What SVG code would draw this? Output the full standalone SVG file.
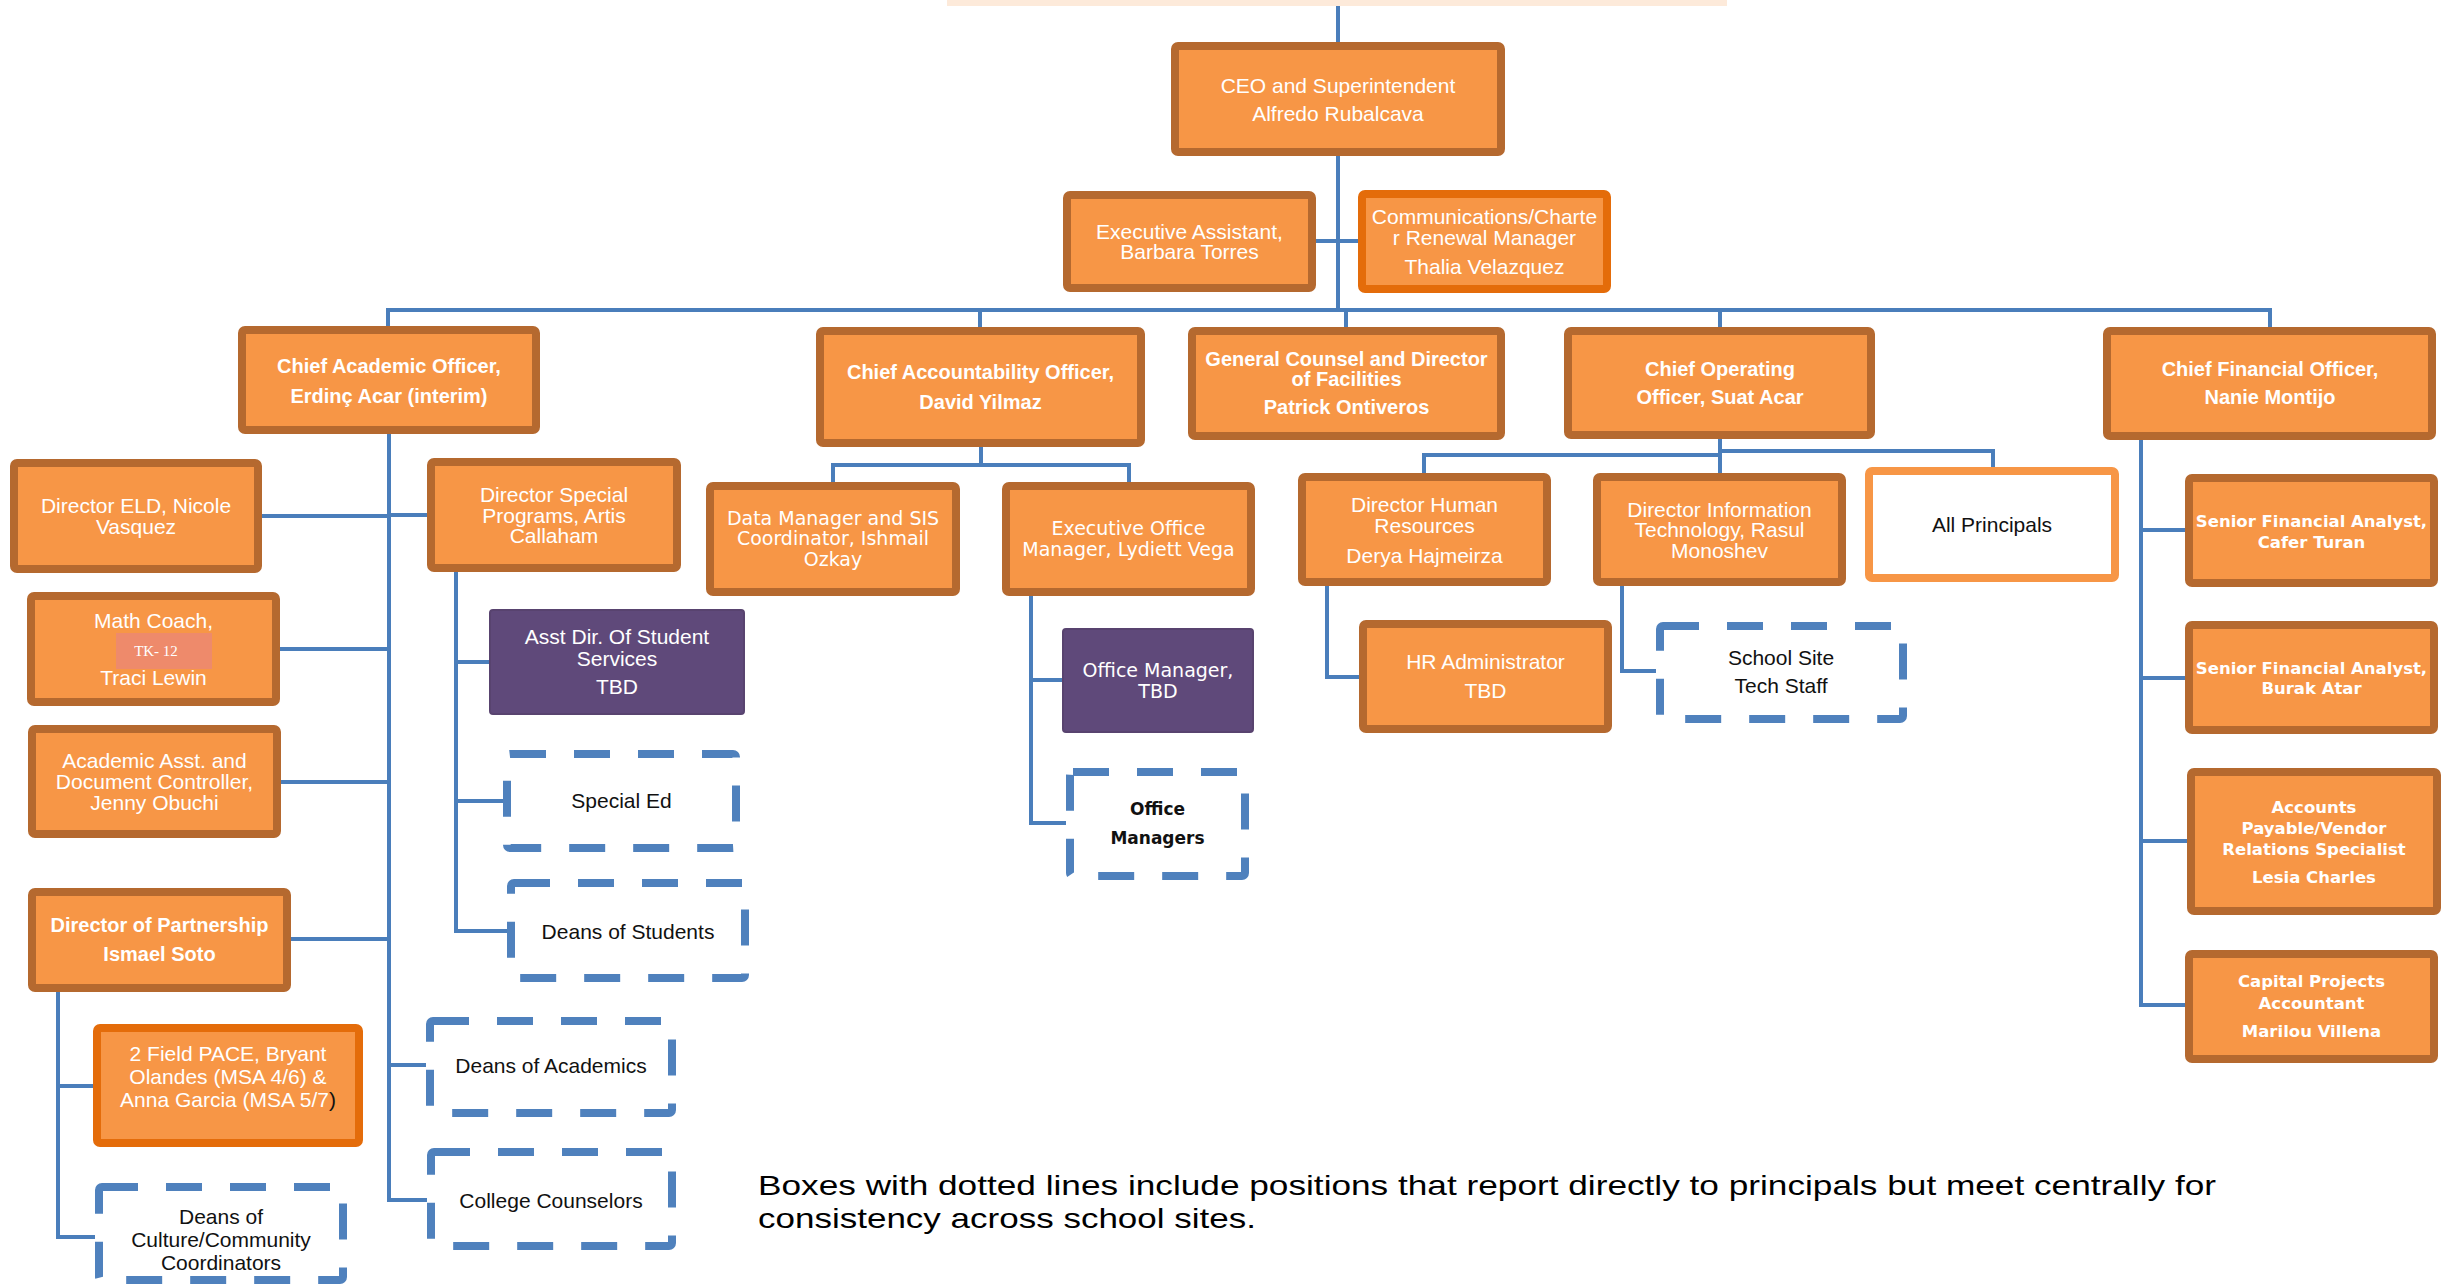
<svg xmlns="http://www.w3.org/2000/svg" width="2455" height="1288" viewBox="0 0 2455 1288">
<style>
.bx{fill:#F79646;stroke:#B5692F;stroke-width:8}
.bx2{fill:#F79646;stroke:#E46C0A;stroke-width:8}
.pu{fill:#5F497A;stroke:#58436F;stroke-width:2}
.ds{fill:#fff;stroke:#4F81BD;stroke-width:8;stroke-dasharray:36 28}
.wp{fill:#fff;stroke:#F79646;stroke-width:8}
.c{fill:none;stroke:#4A7EBB;stroke-width:4}
text{font-family:"Liberation Sans",Arial,sans-serif;font-size:21px;fill:#fff;text-anchor:middle}
.b{font-weight:bold;font-size:20px}
.k{fill:#111}
.v{font-family:"DejaVu Sans",Verdana,sans-serif;font-size:19px}
.vb{font-family:"DejaVu Sans",Verdana,sans-serif;font-weight:bold;font-size:16.5px}
.vk{font-family:"DejaVu Sans",Verdana,sans-serif;font-weight:bold;font-size:17px;fill:#111}
.tk{font-family:"Liberation Serif","Times New Roman",serif;font-size:15px}
.lg{font-size:28px;fill:#000;text-anchor:start}
</style>
<rect x="947" y="0" width="780" height="6" fill="#FDEADA"/>
<g id="connectors">
<path class="c" d="M1338 6V42M1338 156V310M1316 241H1358M388 327V310H2270V327M980 310V327M1346 310V327M1720 310V327"/>
<path class="c" d="M389 434V1200H427M262 516H389M389 515H427M280 649H389M281 782H389M291 939H389M389 1065H426"/>
<path class="c" d="M456 572V931H507M456 662H490M456 801H503M58 992V1237H95M58 1086H93"/>
<path class="c" d="M981 447V465M833 482V465H1129V482M1031 596V823H1066M1031 680H1063"/>
<path class="c" d="M1720 439V473M1424 473V455H1720M1720 451H1993V467M1327 586V677H1359M1622 586V671H1656"/>
<path class="c" d="M2141 440V1005H2185M2141 530H2185M2141 678H2185M2141 841H2187"/>
</g>
<g id="ceo"><rect class="bx" x="1175" y="46" width="326" height="106" rx="3"/><text x="1338" y="92.5">CEO and Superintendent</text><text x="1338" y="121">Alfredo Rubalcava</text></g>
<g id="exec-assistant"><rect class="bx" x="1067" y="195" width="245" height="93" rx="3"/><text x="1189.5" y="238.5">Executive Assistant,</text><text x="1189.5" y="259">Barbara Torres</text></g>
<g id="communications"><rect class="bx2" x="1362" y="194" width="245" height="95" rx="3"/><text x="1484.5" y="224">Communications/Charte</text><text x="1484.5" y="245">r Renewal Manager</text><text x="1484.5" y="274">Thalia Velazquez</text></g>
<g id="cao"><rect class="bx" x="242" y="330" width="294" height="100" rx="3"/><text class="b" x="389" y="373">Chief Academic Officer,</text><text class="b" x="389" y="403">Erdinç Acar (interim)</text></g>
<g id="chief-accountability"><rect class="bx" x="820" y="331" width="321" height="112" rx="3"/><text class="b" x="980.5" y="379">Chief Accountability Officer,</text><text class="b" x="980.5" y="409">David Yilmaz</text></g>
<g id="general-counsel"><rect class="bx" x="1192" y="331" width="309" height="105" rx="3"/><text class="b" x="1346.5" y="366">General Counsel and Director</text><text class="b" x="1346.5" y="386">of Facilities</text><text class="b" x="1346.5" y="414">Patrick Ontiveros</text></g>
<g id="coo"><rect class="bx" x="1568" y="331" width="303" height="104" rx="3"/><text class="b" x="1720" y="376">Chief Operating</text><text class="b" x="1720" y="404">Officer, Suat Acar</text></g>
<g id="cfo"><rect class="bx" x="2107" y="331" width="325" height="105" rx="3"/><text class="b" x="2270" y="376">Chief Financial Officer,</text><text class="b" x="2270" y="404">Nanie Montijo</text></g>
<g id="director-eld"><rect class="bx" x="14" y="463" width="244" height="106" rx="3"/><text x="136" y="513">Director ELD, Nicole</text><text x="136" y="533.5">Vasquez</text></g>
<g id="director-special-programs"><rect class="bx" x="431" y="462" width="246" height="106" rx="3"/><text x="554" y="501.5">Director Special</text><text x="554" y="522.5">Programs, Artis</text><text x="554" y="543">Callaham</text></g>
<g id="math-coach"><rect class="bx" x="31" y="596" width="245" height="106" rx="3"/><text x="153.5" y="627.5">Math Coach,</text><rect x="116" y="633" width="96" height="36" fill="#EE8A6B"/><text class="tk" x="156" y="656">TK- 12</text><text x="153.5" y="685">Traci Lewin</text></g>
<g id="academic-asst"><rect class="bx" x="32" y="729" width="245" height="105" rx="3"/><text x="154.5" y="768">Academic Asst. and</text><text x="154.5" y="789">Document Controller,</text><text x="154.5" y="809.5">Jenny Obuchi</text></g>
<g id="director-partnership"><rect class="bx" x="32" y="892" width="255" height="96" rx="3"/><text class="b" x="159.5" y="932">Director of Partnership</text><text class="b" x="159.5" y="961">Ismael Soto</text></g>
<g id="field-pace"><rect class="bx2" x="97" y="1028" width="262" height="115" rx="3"/><text x="228" y="1060.5">2 Field PACE, Bryant</text><text x="228" y="1084">Olandes (MSA 4/6) &amp;</text><text x="228" y="1106.5">Anna Garcia (MSA 5/7<tspan fill="#111">)</tspan></text></g>
<g id="deans-culture"><rect class="ds" x="99" y="1187" width="244" height="93" rx="3"/><text class="k" font-size="20" x="221" y="1224">Deans of</text><text class="k" font-size="20" x="221" y="1246.5">Culture/Community</text><text class="k" font-size="20" x="221" y="1269.5">Coordinators</text></g>
<g id="asst-dir-student-services"><rect class="pu" x="490" y="610" width="254" height="104" rx="3"/><text x="617" y="644">Asst Dir. Of Student</text><text x="617" y="665.5">Services</text><text x="617" y="694">TBD</text></g>
<g id="special-ed"><rect class="ds" x="507" y="754" width="229" height="94" rx="3"/><text class="k" font-size="20" x="621.5" y="808">Special Ed</text></g>
<g id="deans-students"><rect class="ds" x="511" y="883" width="234" height="95" rx="3"/><text class="k" font-size="20" x="628" y="938.5">Deans of Students</text></g>
<g id="deans-academics"><rect class="ds" x="430" y="1021" width="242" height="92" rx="3"/><text class="k" font-size="20" x="551" y="1072.5">Deans of Academics</text></g>
<g id="college-counselors"><rect class="ds" x="431" y="1152" width="241" height="94" rx="3"/><text class="k" font-size="20" x="551" y="1207.5">College Counselors</text></g>
<g id="data-manager"><rect class="bx" x="710" y="486" width="246" height="106" rx="3"/><text class="v" x="833" y="524.7">Data Manager and SIS</text><text class="v" x="833" y="545">Coordinator, Ishmail</text><text class="v" x="833" y="566">Ozkay</text></g>
<g id="exec-office-manager"><rect class="bx" x="1006" y="486" width="245" height="106" rx="3"/><text class="v" x="1128.5" y="535">Executive Office</text><text class="v" x="1128.5" y="556">Manager, Lydiett Vega</text></g>
<g id="office-manager-tbd"><rect class="pu" x="1063" y="629" width="190" height="103" rx="3"/><text class="v" x="1158" y="677">Office Manager,</text><text class="v" x="1158" y="697.7">TBD</text></g>
<g id="office-managers"><rect class="ds" x="1070" y="772" width="175" height="104" rx="3"/><text class="vk" x="1157.5" y="815">Office</text><text class="vk" x="1157.5" y="844">Managers</text></g>
<g id="director-hr"><rect class="bx" x="1302" y="477" width="245" height="105" rx="3"/><text x="1424.5" y="512">Director Human</text><text x="1424.5" y="533">Resources</text><text x="1424.5" y="562.5">Derya Hajmeirza</text></g>
<g id="director-it"><rect class="bx" x="1597" y="477" width="245" height="105" rx="3"/><text x="1719.5" y="516.5">Director Information</text><text x="1719.5" y="536.5">Technology, Rasul</text><text x="1719.5" y="557.5">Monoshev</text></g>
<g id="all-principals"><rect class="wp" x="1869" y="471" width="246" height="107" rx="3"/><text class="k" x="1992" y="531.5">All Principals</text></g>
<g id="hr-administrator"><rect class="bx" x="1363" y="624" width="245" height="105" rx="3"/><text x="1485.5" y="669">HR Administrator</text><text x="1485.5" y="697.5">TBD</text></g>
<g id="school-site-tech"><rect class="ds" x="1660" y="626" width="243" height="93" rx="3"/><text class="k" font-size="20" x="1781" y="664.5">School Site</text><text class="k" font-size="20" x="1781" y="693">Tech Staff</text></g>
<g id="sfa-turan"><rect class="bx" x="2189" y="478" width="245" height="105" rx="3"/><text class="vb" x="2311.5" y="526.5">Senior Financial Analyst,</text><text class="vb" x="2311.5" y="547.5">Cafer Turan</text></g>
<g id="sfa-atar"><rect class="bx" x="2189" y="625" width="245" height="105" rx="3"/><text class="vb" x="2311.5" y="673.5">Senior Financial Analyst,</text><text class="vb" x="2311.5" y="693.5">Burak Atar</text></g>
<g id="accounts-payable"><rect class="bx" x="2191" y="772" width="246" height="139" rx="3"/><text class="vb" x="2314" y="812.5">Accounts</text><text class="vb" x="2314" y="834">Payable/Vendor</text><text class="vb" x="2314" y="855">Relations Specialist</text><text class="vb" x="2314" y="883">Lesia Charles</text></g>
<g id="capital-projects"><rect class="bx" x="2189" y="954" width="245" height="105" rx="3"/><text class="vb" x="2311.5" y="987">Capital Projects</text><text class="vb" x="2311.5" y="1008.5">Accountant</text><text class="vb" x="2311.5" y="1036.5">Marilou Villena</text></g>
<g id="legend"><text class="lg" x="758" y="1195" textLength="1458" lengthAdjust="spacingAndGlyphs">Boxes with dotted lines include positions that report directly to principals but meet centrally for</text><text class="lg" x="758" y="1228" textLength="498" lengthAdjust="spacingAndGlyphs">consistency across school sites.</text></g>
</svg>
